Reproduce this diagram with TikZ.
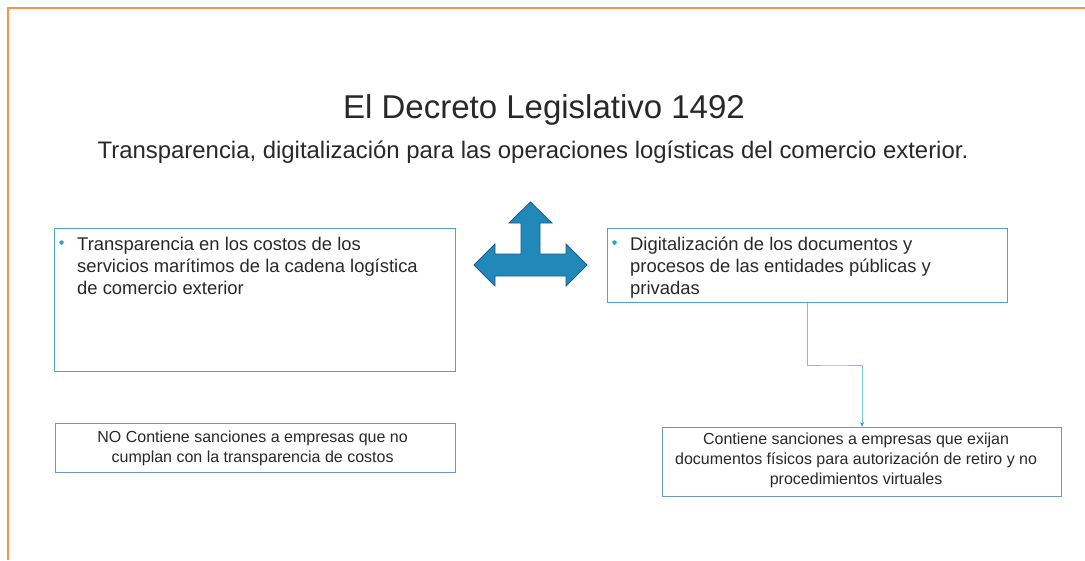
\documentclass[tikz,border=0pt]{standalone}
\usepackage{fontspec}
\setmainfont{Liberation Sans}
\usetikzlibrary{arrows.meta}
\definecolor{frameorange}{RGB}{247,150,70}
\definecolor{boxblue}{RGB}{80,162,205}
\definecolor{boxblueb}{RGB}{110,150,205}
\definecolor{connblue}{RGB}{125,195,220}
\definecolor{arrowfill}{RGB}{33,137,186}
\definecolor{arrowdraw}{RGB}{30,92,135}
\definecolor{bulletblue}{RGB}{42,159,214}
\definecolor{txt}{RGB}{40,40,40}
\begin{document}
\begin{tikzpicture}[x=1pt,y=-1pt,
  box/.style={draw=boxblue, line width=1.2pt, rectangle, inner sep=0pt, anchor=north west},
  boxb/.style={draw=boxblueb, line width=1.2pt, rectangle, inner sep=0pt, anchor=north west},
  btext/.style={inner sep=0pt, anchor=north west, align=left, text=txt, font=\fontsize{18.4}{22.2}\selectfont},
  stext/.style={inner sep=0pt, align=center, text=txt, font=\fontsize{16}{20}\selectfont},
  bulletdot/.style={circle, fill=bulletblue, inner sep=0pt, minimum size=4.5pt},
  conn/.style={draw=connblue, line width=1pt, -{Stealth[length=5pt,width=4pt,color=bulletblue]}}
]
\useasboundingbox (0,0) rectangle (1085,560);
% frame
\draw[frameorange, line width=2pt] (7.5,560) -- (7.5,8) -- (1085,8);
% titles
\node[inner sep=0pt, text=txt, font=\fontsize{33}{40}\selectfont, anchor=base] (title) at (544,118) {El Decreto Legislativo 1492};
\node[inner sep=0pt, text=txt, font=\fontsize{23.9}{28}\selectfont, anchor=base] (sub) at (533,158) {Transparencia, digitalización para las operaciones logísticas del comercio exterior.};
% three-way arrow
\draw[fill=arrowfill, draw=arrowdraw, line width=0.8pt]
  (530.5,202) -- (552,223) -- (540,223) -- (540,254) -- (566,254) -- (566,244)
  -- (587,265) -- (566,286) -- (566,276) -- (495,276) -- (495,286) -- (474,265)
  -- (495,244) -- (495,254) -- (521,254) -- (521,223) -- (509,223) -- cycle;
% box 1
\node[box, minimum width=401pt, minimum height=143pt] (b1) at (54,228) {};
\node[btext] (t1) at (77,236.5) {Transparencia en los costos de los\\servicios marítimos de la cadena logística\\de comercio exterior};
\node[bulletdot] (d1) at (61.5,242.5) {};
% box 2
\node[box, minimum width=400pt, minimum height=74pt] (b2) at (607,228) {};
\node[btext] (t2) at (630,236.5) {Digitalización de los documentos y\\procesos de las entidades públicas y\\privadas};
\node[bulletdot] (d2) at (614.5,242.5) {};
% box 3
\node[boxb, minimum width=400pt, minimum height=49pt] (b3) at (55,423) {};
\node[stext] (t3) at ([xshift=-3pt]b3.center) {NO Contiene sanciones a empresas que no\\cumplan con la transparencia de costos};
% box 4
\node[boxb, minimum width=399pt, minimum height=69pt] (b4) at (662,427) {};
\node[stext] (t4) at ([xshift=-6pt,yshift=1.5pt]b4.center) {Contiene sanciones a empresas que exijan\\documentos físicos para autorización de retiro y no\\procedimientos virtuales};
% connector
\coordinate (m) at (834,365);
\draw[conn] (b2.south) |- (m) -| (b4.north);
\end{tikzpicture}
\end{document}
